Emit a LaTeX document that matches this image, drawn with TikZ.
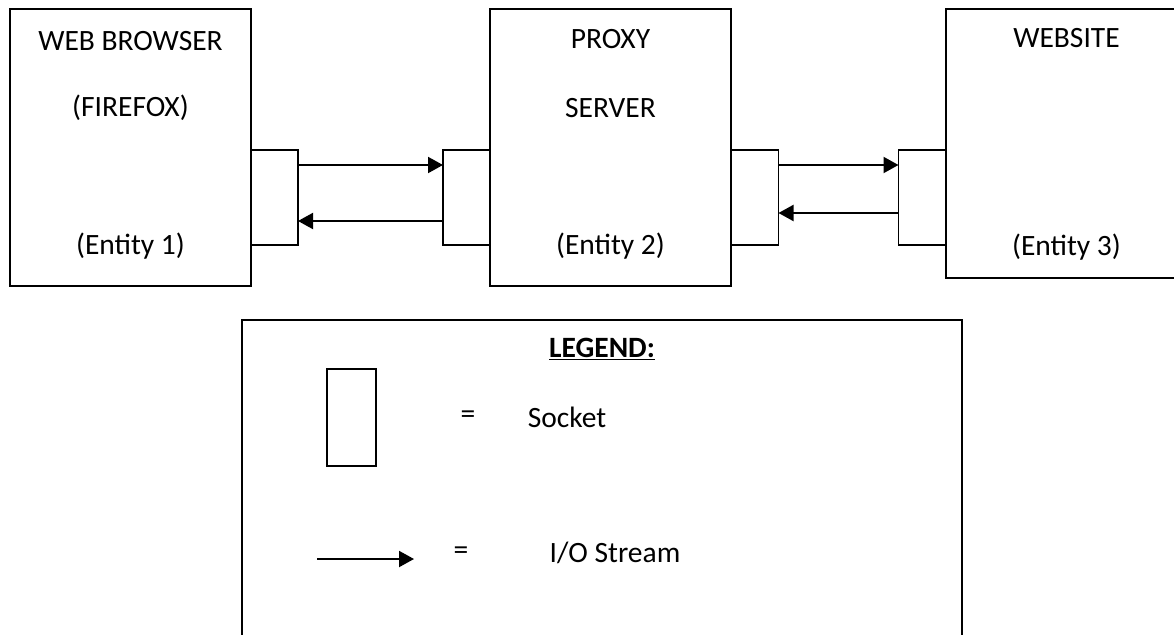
\documentclass[tikz,border=0pt]{standalone}
\usepackage{fontspec}
\setmainfont{Carlito}
\usetikzlibrary{arrows.meta}

\begin{document}
\begin{tikzpicture}[x=1pt, y=-1pt,
    entity/.style={draw, line width=1.6pt, inner sep=0pt, outer sep=0pt,
      minimum width=241pt},
    socket/.style={draw, line width=1.6pt, inner sep=0pt, outer sep=0pt,
      minimum width=47pt, minimum height=95pt},
    stream/.style={line width=2pt, -{Triangle[length=15pt, width=16pt]}},
    txt/.style={font=\fontsize{29.5}{34}\selectfont}]

  \useasboundingbox (0,0) rectangle (1174,634);

  % the three entities
  \node[entity, minimum height=277pt] (browser) at (130.5,147.5) {};
  \node[entity, minimum height=277pt] (proxy) at (610.5,147.5) {};
  \node[entity, minimum height=269pt] (website) at (1066.5,143.5) {};

  \node[txt] at ([yshift=-32pt]browser.north) {WEB BROWSER};
  \node[txt] at ([yshift=-99pt]browser.north) {(FIREFOX)};
  \node[txt] at ([yshift=40pt]browser.south) {(Entity 1)};

  \node[txt] at ([yshift=-30pt]proxy.north) {PROXY};
  \node[txt] at ([yshift=-99pt]proxy.north) {SERVER};
  \node[txt] at ([yshift=40pt]proxy.south) {(Entity 2)};

  \node[txt] at ([yshift=-29pt]website.north) {WEBSITE};
  \node[txt] at ([yshift=31pt]website.south) {(Entity 3)};

  % sockets
  \node[socket] (sockA) at (274.5,197.5) {};
  \node[socket] (sockB) at (466.5,197.5) {};
  \node[socket] (sockC) at (755,197.5) {};
  \node[socket] (sockD) at (922,197.5) {};

  % streams
  \draw[stream] ([yshift=32.5pt]sockA.east) -- ([yshift=32.5pt]sockB.west);
  \draw[stream] ([yshift=-23.5pt]sockB.west) -- ([yshift=-23.5pt]sockA.east);
  \draw[stream] ([yshift=32.5pt]sockC.east) -- ([yshift=32.5pt]sockD.west);
  \draw[stream] ([yshift=-15.5pt]sockD.west) -- ([yshift=-15.5pt]sockC.east);

  % legend
  \node[draw, line width=2.4pt, inner sep=0pt, minimum width=720pt,
    minimum height=340pt] (legend) at (602,490) {};
  \node[txt] (legtitle) at (602,349) {\underline{\textbf{LEGEND:}}};

  \node[socket, minimum width=49pt, minimum height=97pt] (legsock) at (351.5,417.5) {};
  \node[txt] (eqA) at (468,417) {=};
  \node[txt] (socktxt) at (567,417) {Socket};

  \coordinate (legA) at (317,559);
  \coordinate (legB) at (414,559);
  \draw[stream] (legA) -- (legB);
  \node[txt] (eqB) at (461,553) {=};
  \node[txt] (streamtxt) at (615,553) {I/O Stream};

\end{tikzpicture}
\end{document}
